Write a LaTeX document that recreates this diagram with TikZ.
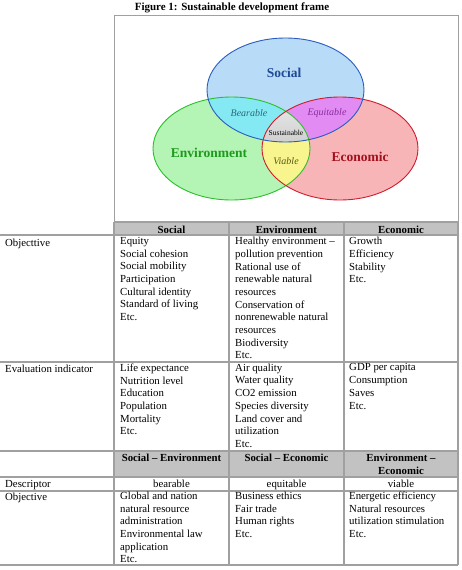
\documentclass[tikz,border=0pt]{standalone}
\usepackage{fontspec}
\setmainfont{Liberation Serif}
\definecolor{socfill}{HTML}{B8DBF7}
\definecolor{socline}{HTML}{2B5DC0}
\definecolor{envfill}{HTML}{B4F4B4}
\definecolor{envline}{HTML}{2DBE2D}
\definecolor{ecofill}{HTML}{F8B5B8}
\definecolor{ecoline}{HTML}{D01C2C}
\definecolor{bearfill}{HTML}{84E9F3}
\definecolor{equifill}{HTML}{E28CF3}
\definecolor{viafill}{HTML}{F8F58F}
\definecolor{soctext}{HTML}{1F4A96}
\definecolor{envtext}{HTML}{1E9A1E}
\definecolor{ecotext}{HTML}{A3101C}
\definecolor{beartext}{HTML}{2A6A7A}
\definecolor{equitext}{HTML}{8A2AA0}
\definecolor{viatext}{HTML}{5A5A10}
\definecolor{tabgray}{HTML}{A0A0A0}
\definecolor{hdrgray}{HTML}{C2C2C2}
\begin{document}
\begin{tikzpicture}[x=1pt,y=-1pt,
  lbl/.style={inner sep=0pt, font=\fontsize{10.8}{12.7}\selectfont},
  cell/.style={lbl, anchor=north west, align=left, execute at begin node=\strut},
  hdr/.style={inner sep=0pt, anchor=base, align=center, font=\fontsize{10.8}{12.7}\selectfont\bfseries},
  ctr/.style={lbl, anchor=base},
  grid/.style={draw=tabgray, line width=1.1pt},
  big/.style={inner sep=0pt, font=\fontsize{13.5}{15}\selectfont\bfseries},
  pair/.style={inner sep=0pt, font=\fontsize{10}{12}\selectfont\itshape}]
\useasboundingbox (0,0) rectangle (462,570);
\fill[white] (0,0) rectangle (462,570);
\def\SocE{(285.5,90) ellipse [x radius=78.5pt, y radius=52pt]}
\def\EnvE{(231.5,148.5) ellipse [x radius=78.5pt, y radius=51.5pt]}
\def\EcoE{(340,148.5) ellipse [x radius=78pt, y radius=51.5pt]}
% title
\node[inner sep=0pt, anchor=base, font=\fontsize{11}{12}\selectfont\bfseries] (title) at (232,10.5) {Figure 1: Sustainable development frame};
% frame
\draw[draw=tabgray, line width=1pt] (114,15) rectangle (458,222);
% venn
\fill[socfill] \SocE;
\fill[envfill] \EnvE;
\fill[ecofill] \EcoE;
\begin{scope}\clip \SocE; \fill[bearfill] \EnvE; \end{scope}
\begin{scope}\clip \SocE; \fill[equifill] \EcoE; \end{scope}
\begin{scope}\clip \EnvE; \fill[viafill] \EcoE; \end{scope}
\begin{scope}\clip \SocE; \clip \EnvE; \shade[top color=gray!15, bottom color=gray!65] \EcoE; \end{scope}
\draw[envline, line width=0.9pt] \EnvE;
\draw[ecoline, line width=0.9pt] \EcoE;
\draw[socline, line width=0.9pt] \SocE;
\node[big, text=soctext] (social) at (284,73) {Social};
\node[big, text=envtext] (environment) at (209,153) {Environment};
\node[big, text=ecotext] (economic) at (360,157) {Economic};
\node[pair, text=beartext] (bearable) at (249,113) {Bearable};
\node[pair, text=equitext] (equitable) at (327,113) {Equitable};
\node[pair, text=viatext] (viable) at (286,161) {Viable};
\node[inner sep=0pt, font=\fontsize{7.5}{8}\selectfont] (sustainable) at (286,133) {Sustainable};
% table header fills
\fill[hdrgray] (114,222) rectangle (458,235);
\fill[hdrgray] (114,451) rectangle (458,477);
% grid
\foreach \yy in {235,362,451,477,491,565} \draw[grid] (0,\yy) -- (458,\yy);
\draw[grid] (114,222) -- (458,222);
\foreach \xx in {114,229,344,458} \draw[grid] (\xx,222) -- (\xx,565);
% header 1
\node[hdr] (h1) at (171.5,233) {Social};
\node[hdr] (h2) at (286.5,233) {Environment};
\node[hdr] (h3) at (401,233) {Economic};
% objecttive row
\node[cell] (r1l) at (5,237) {Objecttive};
\node[cell] (r1a) at (120,237) {Equity\\Social cohesion\\Social mobility\\Participation\\Cultural identity\\Standard of living\\Etc.};
\node[cell] (r1b) at (235,237) {Healthy environment --\\pollution prevention\\Rational use of\\renewable natural\\resources\\Conservation of\\nonrenewable natural\\resources\\Biodiversity\\Etc.};
\node[cell] (r1c) at (349,237) {Growth\\Efficiency\\Stability\\Etc.};
% evaluation row
\node[cell] (r2l) at (5,363.6) {Evaluation indicator};
\node[cell] (r2a) at (120,363.6) {Life expectance\\Nutrition level\\Education\\Population\\Mortality\\Etc.};
\node[cell] (r2b) at (235,363.6) {Air quality\\Water quality\\CO2 emission\\Species diversity\\Land cover and\\utilization\\Etc.};
\node[cell] (r2c) at (349,363.6) {GDP per capita\\Consumption\\Saves\\Etc.};
% header 2
\node[hdr] (g1) at (171.5,461) {Social -- Environment};
\node[hdr] (g2) at (286.5,461) {Social -- Economic};
\node[hdr] (g3) at (401,474) {Environment --\\Economic};
% descriptor
\node[lbl, anchor=base west] (r3l) at (5,487) {Descriptor};
\node[ctr] (r3a) at (171.5,487) {bearable};
\node[ctr] (r3b) at (286.5,487) {equitable};
\node[ctr] (r3c) at (401,487) {viable};
% objective row
\node[cell] (r4l) at (5,491.6) {Objective};
\node[cell] (r4a) at (120,491.6) {Global and nation\\natural resource\\administration\\Environmental law\\application\\Etc.};
\node[cell] (r4b) at (235,491.6) {Business ethics\\Fair trade\\Human rights\\Etc.};
\node[cell] (r4c) at (349,491.6) {Energetic efficiency\\Natural resources\\utilization stimulation\\Etc.};
\end{tikzpicture}
\end{document}
